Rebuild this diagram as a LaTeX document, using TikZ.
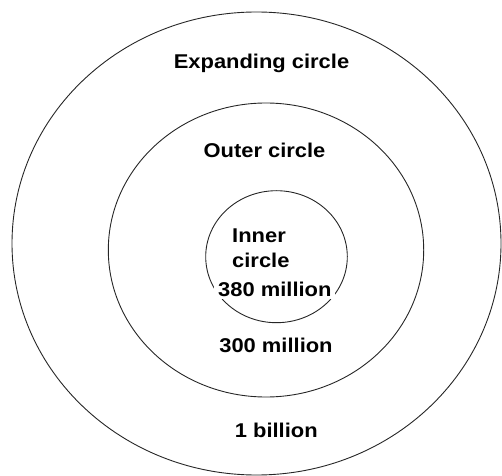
\documentclass[tikz,border=0pt]{standalone}
\usepackage{fontspec}
\setmainfont{Liberation Sans}[FakeStretch=1.1]
\begin{document}
\begin{tikzpicture}[
    x=1bp, y=-1bp,
    font=\bfseries\fontsize{20}{24}\selectfont,
    ring/.style={draw=black!85, line width=0.9bp},
    ringtext/.style={inner sep=0pt, anchor=base},
    innertext/.style={inner sep=0pt, anchor=base west}
    ]

\useasboundingbox (0,0) rectangle (502,476);

% The three circles (slightly stretched sideways)
\draw[ring] (256.5,243.5) ellipse [x radius=244.5, y radius=231.5];
\draw[ring] (266,250)     ellipse [x radius=157.7, y radius=147];
\draw[ring] (276.5,256.7) ellipse [x radius=70.8,  y radius=66];

% Labels of the outer rings
\node[ringtext] (expanding) at (261.5,68.3)  {Expanding circle};
\node[ringtext] (outer)     at (264.5,157.3) {Outer circle};
\node[ringtext] (outernum)  at (276,352.7)   {300 million};
\node[ringtext] (expnum)    at (276.3,437.7) {1 billion};

% Labels of the inner circle
\node[innertext] (inner)    at (232,243)   {Inner};
\node[innertext] (innerb)   at (232,267.7) {circle};
\node[innertext, fill=white, inner xsep=4bp, inner ysep=3bp] (innernum) at (214,296) {380 million};

\end{tikzpicture}
\end{document}
